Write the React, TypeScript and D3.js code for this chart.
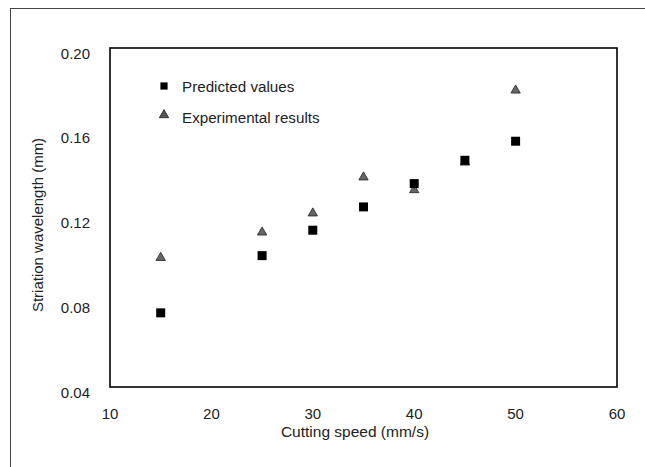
import React from "react";
import * as d3 from "d3";

const speeds = [15, 25, 30, 35, 40, 45, 50];
const predicted = [0.075, 0.102, 0.114, 0.125, 0.136, 0.147, 0.156];
const experimental = [0.101, 0.113, 0.122, 0.139, 0.133, 0.146, 0.18];
const xTicks = [10, 20, 30, 40, 50, 60];
const yTicks = [0.04, 0.08, 0.12, 0.16, 0.2];
const legendLabels = ["Predicted values", "Experimental results"];
const xTitle = "Cutting speed (mm/s)";
const yTitle = "Striation wavelength (mm)";

const W = 645;
const H = 467;
const FONT = "'Liberation Sans', Arial, sans-serif";

export default function App() {
  const x = d3.scaleLinear().domain([10, 60]).range([110, 617]);
  const y = d3.scaleLinear().domain([0.04, 0.2]).range([387, 48]);
  const sq = d3.symbol().type(d3.symbolSquare).size(81)();
  const tri = d3.symbol().type(d3.symbolTriangle).size(38)();

  return (
    <svg
      width={W}
      height={H}
      style={{ position: "absolute", left: 0, top: 0, background: "#fff" }}
      fontFamily={FONT}
    >
      <rect x={0} y={0} width={W} height={H} fill="#fff" />
      {/* outer frame */}
      <line x1={10} y1={8.5} x2={W} y2={8.5} stroke="#444" strokeWidth={1} />
      <line x1={10.5} y1={8} x2={10.5} y2={H} stroke="#444" strokeWidth={1} />

      {/* plot box */}
      <rect
        x={x(10)}
        y={y(0.2)}
        width={x(60) - x(10)}
        height={y(0.04) - y(0.2)}
        fill="none"
        stroke="#000"
        strokeWidth={1.6}
      />

      {/* y tick labels */}
      {yTicks.map((t) => (
        <text
          key={"y" + t}
          x={90}
          y={y(t) + 10.5}
          textAnchor="end"
          fontSize={15}
          fill="#222"
        >
          {d3.format(".2f")(t)}
        </text>
      ))}

      {/* x tick labels */}
      {xTicks.map((t) => (
        <text
          key={"x" + t}
          x={x(t)}
          y={419}
          textAnchor="middle"
          fontSize={15}
          fill="#222"
        >
          {t}
        </text>
      ))}

      {/* axis titles */}
      <text x={355} y={437} textAnchor="middle" fontSize={15.5} fill="#222">
        {xTitle}
      </text>
      <text
        transform={`translate(43,225) rotate(-90)`}
        textAnchor="middle"
        fontSize={15}
        fill="#222"
      >
        {yTitle}
      </text>

      {/* legend */}
      <path d={sq} transform="translate(164,86) scale(0.8)" fill="#000" />
      <text x={182} y={92} fontSize={15.2} fill="#222">
        {legendLabels[0]}
      </text>
      <path d={tri} transform="translate(164,115)" fill="#555" stroke="#222" strokeWidth={0.8} />
      <text x={182} y={123} fontSize={15.2} fill="#222">
        {legendLabels[1]}
      </text>

      {/* experimental (triangles) */}
      {speeds.map((s, i) => (
        <path
          key={"e" + i}
          d={tri}
          transform={`translate(${x(s)},${y(experimental[i])})`}
          fill="#666"
          stroke="#222"
          strokeWidth={0.8}
        />
      ))}

      {/* predicted (squares) */}
      {speeds.map((s, i) => (
        <path
          key={"p" + i}
          d={sq}
          transform={`translate(${x(s)},${y(predicted[i])})`}
          fill="#000"
        />
      ))}
    </svg>
  );
}
